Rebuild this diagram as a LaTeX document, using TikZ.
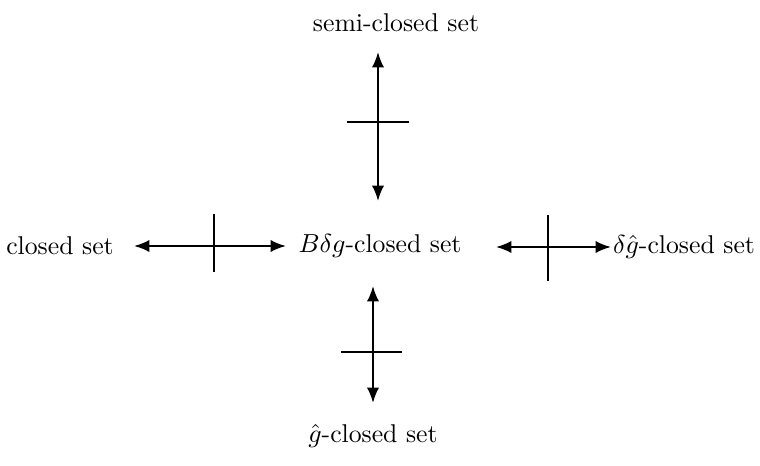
\documentclass[tikz,border=0pt]{standalone}
\usetikzlibrary{arrows.meta}
\begin{document}
\begin{tikzpicture}[x=0.42pt,y=-0.42pt,
  lbl/.style={inner sep=0pt,font=\fontsize{10.8}{13}\selectfont},
  conn/.style={line width=0.9pt,{Latex[length=6.5pt,width=5.2pt]}-{Latex[length=6.5pt,width=5.2pt]}},
  bar/.style={line width=0.9pt}]
\useasboundingbox (0,0) rectangle (760,466);
\node[lbl] (semi) at (396,23) {semi-closed set};
\node[lbl] (B) at (380,246) {$B\delta g$-closed set};
\node[lbl] (cl) at (60,246) {closed set};
\node[lbl] (dg) at (684,247) {$\delta\hat{g}$-closed set};
\node[lbl] (gh) at (373,436) {$\hat{g}$-closed set};
% endpoints
\coordinate (t1) at (378,52); \coordinate (t2) at (378,201);
\coordinate (l1) at (134,246); \coordinate (l2) at (286,246);
\coordinate (r1) at (496,247); \coordinate (r2) at (611,247);
\coordinate (b1) at (373,286); \coordinate (b2) at (373,403);
\draw[conn] (t1) -- (t2);
\draw[conn] (l1) -- (l2);
\draw[conn] (r1) -- (r2);
\draw[conn] (b1) -- (b2);
% crossbars
\coordinate (tc1) at (347,122); \coordinate (tc2) at (409,122);
\coordinate (lc1) at (214,214); \coordinate (lc2) at (214,272);
\coordinate (rc1) at (548,215); \coordinate (rc2) at (548,281);
\coordinate (bc1) at (341,352); \coordinate (bc2) at (402,352);
\draw[bar] (tc1) -- (tc2);
\draw[bar] (lc1) -- (lc2);
\draw[bar] (rc1) -- (rc2);
\draw[bar] (bc1) -- (bc2);
\end{tikzpicture}
\end{document}
